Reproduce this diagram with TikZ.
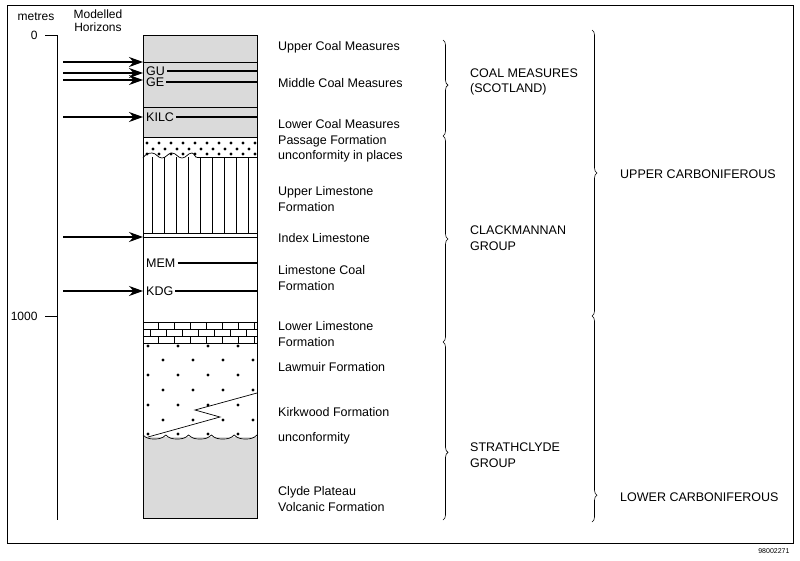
\documentclass[tikz,border=0pt]{standalone}
\usepackage{fontspec}
\setmainfont{Liberation Sans}
\usetikzlibrary{decorations.pathreplacing,arrows.meta}
\definecolor{coalgrey}{RGB}{218,218,218}
\tikzset{
  unit/.style={anchor=west, font=\fontsize{12.5}{15.5}\selectfont, align=left, inner sep=0pt},
  group/.style={anchor=west, font=\fontsize{12.5}{15.5}\selectfont, align=left, inner sep=0pt},
  hzn/.style={font=\fontsize{12.5}{12}\selectfont, inner sep=0pt, anchor=west},
  hline/.style={line width=2.4pt},
  pick/.style={-{Stealth[length=14pt,width=10pt]}, line width=1.2pt},
  brc/.style={decorate, decoration={brace, amplitude=5pt, aspect=#1}, line width=0.6pt}
}
\begin{document}
\begin{tikzpicture}[x=1pt,y=-1pt]
  \useasboundingbox (0,0) rectangle (800,560);
  %%%%%%%%%% Frame and scale %%%%%%%%%%
  \draw[line width=0.8pt] (7,5) rectangle (793,543);
  \node[font=\fontsize{7}{8}\selectfont, anchor=east] (ref) at (793,551) {98002271};
  \node[font=\fontsize{12}{12}\selectfont] (metres) at (36,17) {metres};
  \node[font=\fontsize{12}{13}\selectfont, align=center] (model) at (98,21) {Modelled\\Horizons};
  \draw[line width=0.7pt] (57,35) -- (57,520);
  \draw[line width=0.7pt] (45,35) -- (57,35);
  \draw[line width=0.7pt] (45,316) -- (57,316);
  \node[font=\fontsize{12}{12}\selectfont, anchor=east] (zero) at (41,35) {0};
  \node[font=\fontsize{12}{12}\selectfont, anchor=east] (thousand) at (41,316) {1000};

  %%%%%%%%%% Column %%%%%%%%%%
  \fill[coalgrey] (143,35) rectangle (257,137);
  \fill[coalgrey] (143,437) rectangle (257,518);
  \draw[line width=0.7pt] (143,62) -- (257,62);
  \draw[line width=0.7pt] (143,107) -- (257,107);
  \draw[line width=0.7pt] (143,137) -- (257,137);
  % passage dots
  \foreach \y in {143,154} \foreach \x in {147,159,...,255} \fill (\x,\y) circle (1.7pt);
  \foreach \x in {153,165,...,255} \fill (\x,149) circle (1.7pt);
  \draw[line width=0.7pt] (143,158) to[out=60,in=180] (152,153) to[out=0,in=180] (162,158)
    to[out=0,in=180] (172,153) to[out=0,in=180] (182,158) to[out=0,in=180] (192,153) to[out=0,in=-120] (197,157);
  \draw[line width=0.7pt] (197,157) -- (257,157);
  % upper limestone
  \foreach \x in {152,164,...,250} \draw[line width=0.7pt] (\x,157) -- (\x,233);
  \draw[line width=0.7pt] (143,233) -- (257,233);
  \draw[line width=0.7pt] (143,237) -- (257,237);
  % lower limestone bricks
  \foreach \y in {322,329,336,343} \draw[line width=0.7pt] (143,\y) -- (257,\y);
  \foreach \x in {158,174,...,254} {
    \draw[line width=0.7pt] (\x,322) -- (\x,329);
    \draw[line width=0.7pt] (\x,336) -- (\x,343);
  }
  \foreach \x in {150,166,...,254} \draw[line width=0.7pt] (\x,329) -- (\x,336);
  % lawmuir / kirkwood dots
  \foreach \y in {346,375,405,434} \foreach \x in {148,178,208,238} \fill (\x,\y) circle (1.7pt);
  \foreach \y in {360,390,420} \foreach \x in {163,193,223,253} \fill (\x,\y) circle (1.7pt);
  \draw[line width=0.7pt] (148,437) -- (220,417) -- (195,410) -- (257,393);
  \draw[line width=0.7pt] (143,435)
    \foreach \i in {0,...,4} { to[out=-45,in=180] ++(11.4,4) to[out=0,in=-135] ++(11.4,-4) };
  % outline
  \draw[line width=0.9pt] (143,35) rectangle (257,518);

  %%%%%%%%%% Horizons %%%%%%%%%%
  \foreach \n/\y in {a/62,b/73,c/80,d/117,e/237,f/291} {
    \coordinate (s\n) at (63,\y);
    \coordinate (t\n) at (143,\y);
    \draw[pick] (s\n) -- (t\n);
  }
  \node[hzn] (GU) at (146,71) {GU};
  \node[hzn] (GE) at (146,82) {GE};
  \node[hzn] (KILC) at (146,117) {KILC};
  \node[hzn] (MEM) at (146,263) {MEM};
  \node[hzn] (KDG) at (146,291) {KDG};
  \foreach \h in {GU,GE,KILC,MEM,KDG} {
    \coordinate (e\h) at (257,0);
    \draw[hline] ([xshift=2pt]\h.east) -- (\h.east -| e\h);
  }

  %%%%%%%%%% Units %%%%%%%%%%
  \node[unit] (ucm) at (278,47) {Upper Coal Measures};
  \node[unit] (mcm) at (278,83) {Middle Coal Measures};
  \node[unit] (lcm) at (278,124) {Lower Coal Measures};
  \node[unit] (pas) at (278,149) {Passage Formation\\unconformity in places};
  \node[unit] (ulf) at (278,199) {Upper Limestone\\Formation};
  \node[unit] (idx) at (278,238) {Index Limestone};
  \node[unit] (lcf) at (278,278) {Limestone Coal\\Formation};
  \node[unit] (llf) at (278,334) {Lower Limestone\\Formation};
  \node[unit] (law) at (278,367) {Lawmuir Formation};
  \node[unit] (kir) at (278,412) {Kirkwood Formation};
  \node[unit] (unc) at (278,438) {unconformity};
  \node[unit] (cpv) at (278,499) {Clyde Plateau\\Volcanic Formation};

  %%%%%%%%%% Groups %%%%%%%%%%
  \draw[brc=0.47] (443,40) -- (443,136);
  \draw[brc=0.5] (443,136) -- (443,342);
  \draw[brc=0.62] (443,342) -- (443,520);
  \draw[brc=0.5] (592,30) -- (592,316);
  \draw[brc=0.87] (592,316) -- (592,522);
  \node[group] (cms) at (470,82) {COAL MEASURES\\(SCOTLAND)};
  \node[group] (clk) at (470,238) {CLACKMANNAN\\GROUP};
  \node[group] (str) at (470,455) {STRATHCLYDE\\GROUP};
  \node[group] (upc) at (620,174) {UPPER CARBONIFEROUS};
  \node[group] (loc) at (620,497) {LOWER CARBONIFEROUS};
\end{tikzpicture}
\end{document}
